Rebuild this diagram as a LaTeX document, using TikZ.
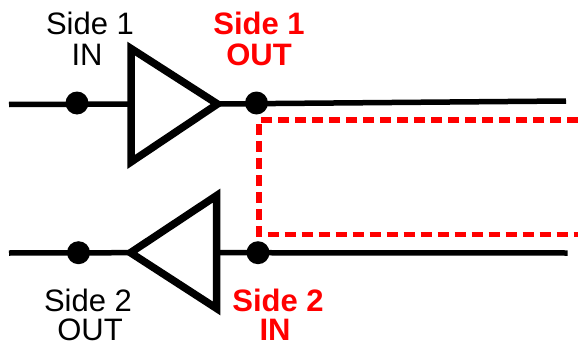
\documentclass[tikz,border=0pt]{standalone}
\usepackage{fontspec}
\setmainfont{Liberation Sans}
\tikzset{
  wire/.style={line width=5.5pt,black},
  gate/.style={line width=7.5pt,black,fill=white,miter limit=10,line join=miter},
  dot/.style={circle,fill=black,inner sep=0pt,minimum size=23pt},
  reddash/.style={line width=5.5pt,red,dash pattern=on 11pt off 6pt},
  lbl/.style={anchor=base,inner sep=0pt,font=\fontsize{31}{31}\selectfont,text=black},
  redlbl/.style={anchor=base,inner sep=0pt,font=\fontsize{31}{31}\selectfont\bfseries,text=red},
}
\begin{document}
\begin{tikzpicture}[x=1pt,y=-1pt]
\useasboundingbox (0,0) rectangle (578,345);
% free ends and triangle corners
\coordinate (l1) at (9,104.5);
\coordinate (w1) at (131,104);
\coordinate (r1) at (566,101);
\coordinate (l2) at (9,253);
\coordinate (r2) at (567.5,253);
\coordinate (a1) at (131,48.5);
\coordinate (b1) at (131,162);
\coordinate (c1) at (217.5,104);
\coordinate (a2) at (216.7,195.5);
\coordinate (b2) at (216.7,308.5);
\coordinate (c2) at (130.5,252.7);
\coordinate (w2) at (216,252.7);
\coordinate (d1) at (578,120);
\coordinate (d2) at (578,234.5);
\coordinate (d3) at (259,120);
\coordinate (d4) at (259,234.5);
% dots
\node[dot] (n1) at (77,103) {};
\node[dot] (n2) at (256.5,103) {};
\node[dot] (n3) at (78.5,252.7) {};
\node[dot] (n4) at (258,252.7) {};
% red dashed links
\draw[reddash] (d1) -- (d3) -- (d4) -- (d2);
% wires
\draw[wire] (l1) -- (w1);
\draw[wire] (c1) -- (r1);
\draw[wire] (l2) -- (c2);
\draw[wire] (w2) -- (r2);
% gates
\draw[gate] (a1) -- (c1) -- (b1) -- cycle;
\draw[gate] (a2) -- (c2) -- (b2) -- cycle;
% labels
\node[lbl] (t1) at (90,35) {Side 1};
\node[lbl] (t2) at (87,66) {IN};
\node[redlbl] (t3) at (259,35) {Side 1};
\node[redlbl] (t4) at (259,66) {OUT};
\node[lbl] (t5) at (88,311.7) {Side 2};
\node[lbl] (t6) at (90,340) {OUT};
\node[redlbl] (t7) at (278,311.7) {Side 2};
\node[redlbl] (t8) at (275,340) {IN};
\end{tikzpicture}
\end{document}
